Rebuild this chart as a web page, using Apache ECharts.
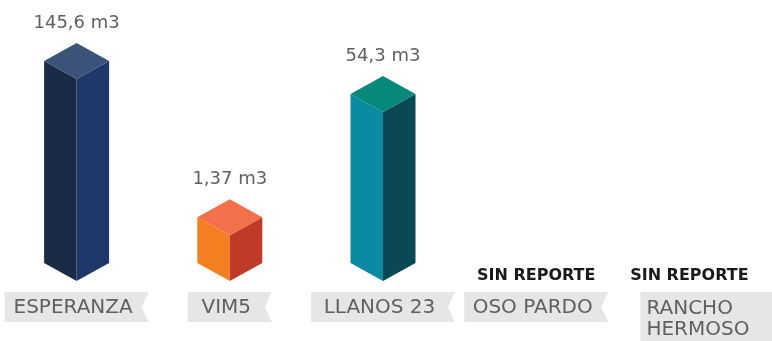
<!DOCTYPE html>
<html>
<head>
<meta charset="utf-8">
<script src="https://cdn.jsdelivr.net/npm/echarts@6/dist/echarts.min.js"></script>
<style>
  html, body { margin: 0; padding: 0; background: #ffffff; }
  #chart { width: 772px; height: 341px; }
</style>
</head>
<body>
<div id="chart"></div>
<script>
// Volumes reported per site (m3); null = no report received
const categories = ['ESPERANZA', 'VIM5', 'LLANOS 23', 'OSO PARDO', 'RANCHO\nHERMOSO'];
const volumes = [145.6, 1.37, 54.3, null, null];
const missingText = 'SIN REPORTE';
const unit = 'm3';

// Log scale bounds for the volume axis
const yMin = 0.35;
const yMax = 145.6;

// Face colours of each prism: [top, left, right]
const palettes = [
  ['#3b5378', '#1c2b45', '#1f386a'],
  ['#f2714a', '#f47f21', '#bf3a27'],
  ['#06887a', '#0a8ba1', '#0a4853'],
  ['#999999', '#888888', '#777777'],
  ['#999999', '#888888', '#777777']
];
// Width of the ribbon behind each site name
const ribbonWidths = [144, 84, 144, 144, 160];

const HW = 32.5;   // half width of a prism
const DY = 18;     // isometric depth offset
const FONT = '"DejaVu Sans", sans-serif';
const TEXT_GREY = '#606060';

function fmt(v) {
  return String(v).replace('.', ',') + ' ' + unit;
}

function renderPrism(params, api) {
  const i = api.value(0);
  const v = api.value(1);
  const p = api.coord([i, v]);
  const xc = p[0], yt = p[1];
  const yb = params.coordSys.y + params.coordSys.height;
  const c = palettes[i];
  return {
    type: 'group',
    children: [
      { type: 'polygon', shape: { points: [[xc - HW, yt - DY], [xc, yt], [xc, yb], [xc - HW, yb - DY]] },
        style: { fill: c[1] } },
      { type: 'polygon', shape: { points: [[xc, yt], [xc + HW, yt - DY], [xc + HW, yb - DY], [xc, yb]] },
        style: { fill: c[2] } },
      { type: 'polygon', shape: { points: [[xc, yt - 2 * DY], [xc + HW, yt - DY], [xc, yt], [xc - HW, yt - DY]] },
        style: { fill: c[0] } },
      { type: 'text',
        style: { text: fmt(v), x: xc, y: yt - 2 * DY - 11, align: 'center', verticalAlign: 'bottom',
                 fill: TEXT_GREY, fontSize: 18, fontFamily: FONT } }
    ]
  };
}

function renderRibbon(params, api) {
  const i = api.value(0);
  const xc = api.coord([i, yMin])[0];
  const w = ribbonWidths[i];
  const name = categories[i];
  const multi = name.indexOf('\n') >= 0;
  const top = 292;
  const h = multi ? 52 : 30;
  const notch = 7;
  const L = multi ? xc - 49 : xc - w / 2;
  const R = L + w, B = top + h;
  const children = [
    { type: 'polygon',
      shape: { points: multi
        ? [[L, top], [R, top], [R, B], [L, B]]
        : [[L, top], [R, top], [R - notch, top + h / 2], [R, B], [L, B]] },
      style: { fill: '#e6e6e6' } },
    { type: 'text',
      style: { text: name,
               x: multi ? L + 6 : xc - notch / 2,
               y: multi ? top + 6 : top + 16,
               align: multi ? 'left' : 'center',
               verticalAlign: multi ? 'top' : 'middle',
               lineHeight: 21,
               fill: TEXT_GREY, fontSize: 20, fontFamily: FONT } }
  ];
  if (volumes[i] == null) {
    children.push({ type: 'text',
      style: { text: missingText, x: xc, y: 276, align: 'center', verticalAlign: 'middle',
               fill: '#1a1a1a', fontSize: 16, fontWeight: 'bold', fontFamily: FONT } });
  }
  return { type: 'group', children: children };
}

const chart = echarts.init(document.getElementById('chart'), null, { renderer: 'canvas' });
chart.setOption({
  animation: false,
  backgroundColor: '#ffffff',
  grid: { left: -5, right: 6, top: 79, bottom: 60 },
  xAxis: { type: 'category', data: categories, show: false },
  yAxis: { type: 'log', min: yMin, max: yMax, show: false },
  series: [
    { type: 'custom', clip: false, renderItem: renderRibbon,
      data: categories.map((c, i) => [i, yMin]) },
    { type: 'custom', clip: false, renderItem: renderPrism,
      data: volumes.map((v, i) => [i, v]).filter(d => d[1] != null) }
  ]
});
</script>
</body>
</html>
